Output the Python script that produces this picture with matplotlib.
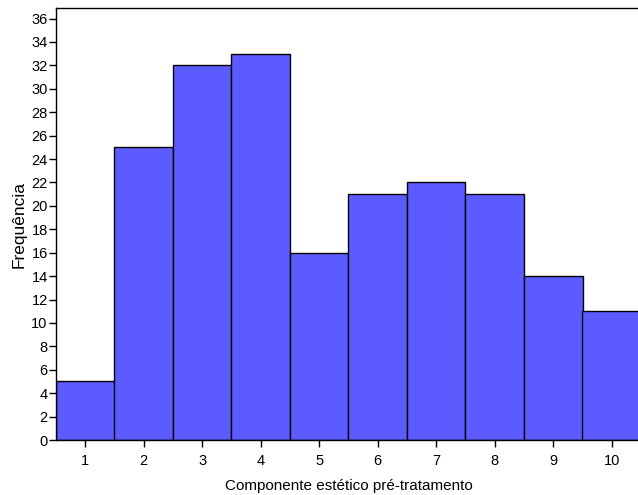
import matplotlib
matplotlib.use('Agg')
from matplotlib import pyplot as plt
import numpy as np

categories = [1, 2, 3, 4, 5, 6, 7, 8, 9, 10]
counts = [5, 25, 32, 33, 16, 21, 22, 21, 14, 11]
y_ticks = list(range(0, 37, 2))

plt.rcParams['font.family'] = ['Liberation Sans', 'DejaVu Sans']

fig = plt.figure(figsize=(6.38, 4.95), dpi=100)
ax = fig.add_axes([56 / 638, 55 / 495, 585 / 638, 432 / 495])
ax.bar(categories, counts, width=1.0, color='#5b5bff', edgecolor='black', linewidth=1.0)
ax.set_xlim(0.5, 10.5)
ax.set_ylim(0, 36.9)
ax.set_xticks(categories)
ax.set_yticks(y_ticks)
ax.tick_params(direction='out', length=5, width=1, labelsize=10.5, colors='black')
ax.tick_params(axis='y', pad=1)
ax.tick_params(axis='x', pad=5)
for s in ax.spines.values():
    s.set_linewidth(1)
ax.set_xlabel('Componente estético pré-tratamento', fontsize=11, labelpad=8)
ax.set_ylabel('Frequência', fontsize=12.5, labelpad=3)
fig.savefig('out.png', dpi=100)
